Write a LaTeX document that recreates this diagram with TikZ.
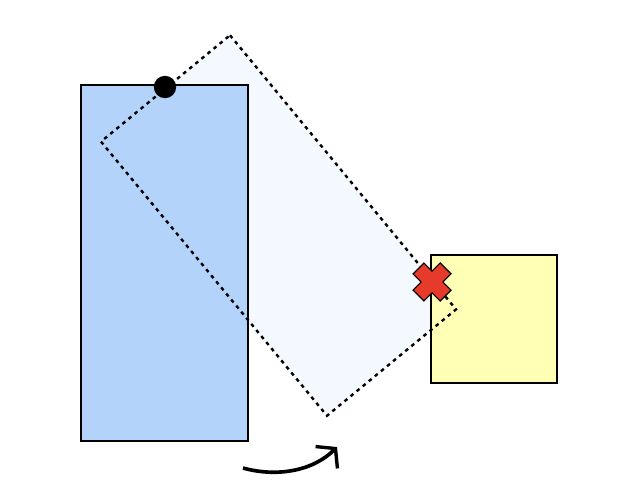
\documentclass[tikz,border=0pt]{standalone}
\usepackage{tikz}
\usetikzlibrary{arrows.meta,calc}
\definecolor{boxblue}{HTML}{B3D3FA}
\definecolor{boxyellow}{HTML}{FFFFB5}
\definecolor{ghostblue}{HTML}{F4F8FF}
\definecolor{crossred}{HTML}{E63A2A}

\begin{document}
\begin{tikzpicture}[x=0.025cm, y=-0.025cm,
  box/.style={draw=black, line width=1.8pt, inner sep=0pt, outer sep=0pt},
  ghost/.style={fill=ghostblue, inner sep=0pt, outer sep=0pt},
  dots/.style={line width=1.7pt, dash pattern=on 2.6pt off 3pt},
  pivot/.style={circle, fill=black, inner sep=0pt, minimum size=0.56cm},
  turn/.style={line width=2.6pt, -{Straight Barb[length=9pt, width=22pt, line width=2.4pt]}}]
\useasboundingbox (0,0) rectangle (620,500);
% rotated copy of the tall box (fill only)
\node[ghost, rotate=-50.5, minimum width=8.88cm, minimum height=4.18cm] (turned) at (278.5,225.5) {};
% the two boxes
\node[box, fill=boxblue, minimum width=4.175cm, minimum height=8.9cm] (tall) at (164.5,263) {};
\node[box, fill=boxyellow, minimum width=3.15cm, minimum height=3.2cm] (square) at (494,319) {};
% outline of the rotated copy
\draw[dots] (turned.north west) -- (turned.north east) -- (turned.south east) -- (turned.south west) -- cycle;
% pivot point
\node[pivot] (hinge) at (165,87) {};
% collision mark
\coordinate (hit) at (432,282);
\foreach \dx/\dy in {1/1,1/-1}
  \draw[line width=11.6pt, black] ($(hit)+(-14*\dx,-14*\dy)$) -- ($(hit)+(14*\dx,14*\dy)$);
\foreach \dx/\dy in {1/1,1/-1}
  \draw[line width=10pt, crossred] ($(hit)+(-13*\dx,-13*\dy)$) -- ($(hit)+(13*\dx,13*\dy)$);
% rotation arrow
\coordinate (turnstart) at (243,468);
\coordinate (turnend) at (337,447);
\draw[turn] (turnstart) .. controls (275,477) and (312,472) .. (turnend);
\end{tikzpicture}
\end{document}
